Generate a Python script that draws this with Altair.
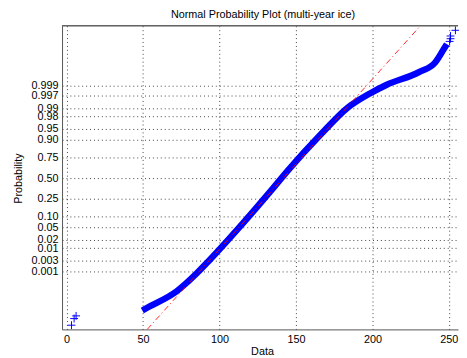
import altair as alt
import pandas as pd
from statistics import NormalDist

TITLE = "Normal Probability Plot (multi-year ice)"
X_TITLE = "Data"
Y_TITLE = "Probability"

band_x = [49.5, 52.7, 72.0, 84.8, 93.4, 114.8, 134.1, 144.8, 166.3, 183.4, 198.4, 209.1, 230.5, 241.2, 243.4, 246.6, 248.7]
band_z = [-4.40, -4.31, -3.76, -3.18, -2.73, -1.53, -0.39, 0.26, 1.46, 2.33, 2.82, 3.10, 3.53, 3.86, 4.02, 4.29, 4.46]

# isolated '+' markers at both tails
tail_x = [3.2, 4.9, 6.2, 250.5, 251.1, 251.1, 254.3]
tail_z = [-4.89, -4.67, -4.58, 4.55, 4.64, 4.73, 4.92]

# reference (fitted normal) line, end points
fit_x = [52.7, 231.4]
fit_z = [-5.03, 5.07]

x_ticks = [0, 50, 100, 150, 200, 250]
prob_ticks = [0.001, 0.003, 0.01, 0.02, 0.05, 0.10, 0.25, 0.50, 0.75, 0.90, 0.95, 0.98, 0.99, 0.997, 0.999]
prob_labels = ["0.001", "0.003", "0.01", "0.02", "0.05", "0.10", "0.25", "0.50",
               "0.75", "0.90", "0.95", "0.98", "0.99", "0.997", "0.999"]

nd = NormalDist()
z_ticks = [nd.inv_cdf(p) for p in prob_ticks]
label_expr = "''"
for z, lab in zip(z_ticks, prob_labels):
    label_expr = f"abs(datum.value - ({z:.5f})) < 0.001 ? '{lab}' : ({label_expr})"

band_df = pd.DataFrame({"x": band_x, "z": band_z})
tail_df = pd.DataFrame({"x": tail_x, "z": tail_z})
fit_df = pd.DataFrame({"x": fit_x, "z": fit_z})

W, H = 403, 309
FONT = "Liberation Sans"

xs = alt.Scale(domain=[-3, 256], nice=False, zero=False)
ys = alt.Scale(domain=[-5.03, 5.07], nice=False, zero=False)

x_axis = alt.Axis(values=x_ticks, title=X_TITLE, grid=True, labelPadding=4,
                  titlePadding=2, titleX=203.5, labelOverlap=False)
y_axis = alt.Axis(values=z_ticks, labelExpr=label_expr, title=Y_TITLE, grid=True,
                  labelOverlap=False, labelPadding=4, titleX=-44, titleY=155,
                  titleBaseline="middle")

X = alt.X("x:Q", scale=xs, axis=x_axis)
Y = alt.Y("z:Q", scale=ys, axis=y_axis)

band = alt.Chart(band_df).mark_line(color="#0000ff", strokeWidth=6.5, interpolate="monotone").encode(
    x=X, y=Y, order="x:Q",
)

tails = alt.Chart(tail_df).mark_point(
    shape="M-1,0L1,0M0,-1L0,1", size=64, filled=False, color="#0000ff",
    strokeWidth=1, opacity=1, clip=False,
).encode(x=X, y=Y)

fit = alt.Chart(fit_df).mark_line(color="#ff0000", strokeWidth=1, strokeDash=[6, 3, 1, 3],
                                  clip=True, opacity=0.85).encode(x=X, y=Y)

top = alt.Chart(fit_df).mark_rule(color="#555555", strokeWidth=1).encode(
    x=alt.value(0), x2=alt.value(W), y=alt.value(0))

chart = alt.layer(band, fit, tails, top).properties(
    width=W, height=H,
    background="white",
    title=alt.TitleParams(TITLE, fontSize=11, font=FONT, fontWeight="normal", color="#000",
                          anchor="middle", offset=5, dx=3),
    autosize=alt.AutoSizeParams(type="none"),
    padding={"left": 55, "top": 15, "right": 1, "bottom": 26},
).configure_view(stroke=None).configure_axis(
    gridColor="#000000", gridDash=[1, 3], gridOpacity=0.75, gridWidth=1,
    domainColor="#555555", domainWidth=1, ticks=False, labelOverlap=False,
    labelFont=FONT, labelFontSize=11, labelColor="#000000",
    titleFont=FONT, titleFontSize=11, titleFontWeight="normal", titleColor="#000000",
)

chart.save("out.html", embed_options={"renderer": "svg", "actions": False})
